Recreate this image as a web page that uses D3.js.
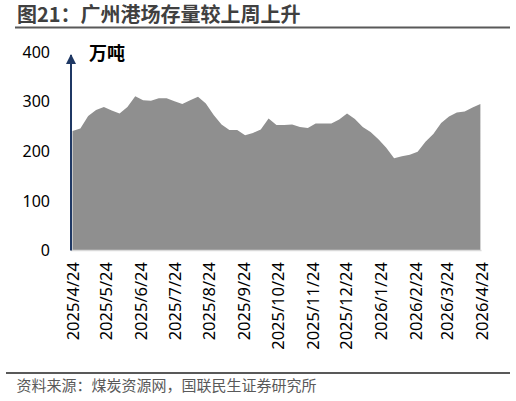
<!DOCTYPE html>
<html><head><meta charset="utf-8">
<script src="https://cdn.jsdelivr.net/npm/d3@7"></script>
<style>html,body{margin:0;padding:0;background:#fff;}svg{display:block;}</style>
</head><body>
<svg id="chart" width="516" height="401"></svg>
<script>
const title = "图21：广州港场存量较上周上升";
const unitLabel = "万吨";
const sourceText = "资料来源：煤炭资源网，国联民生证券研究所";
const startDate = "2025-04-24";
const stockValues = [241,246,271,283,289,282,276,289,311,303,302,307,307,301,295,303,310,296,273,254,243,243,232,237,244,266,253,253,254,249,247,256,256,256,264,276,265,249,239,224,207,186,190,193,199,219,235,257,270,278,280,288,295];
const xTickLabels = ["2025/4/24","2025/5/24","2025/6/24","2025/7/24","2025/8/24","2025/9/24","2025/10/24","2025/11/24","2025/12/24","2026/1/24","2026/2/24","2026/3/24","2026/4/24"];
const yTicks = [0,100,200,300,400];

const parse = d3.timeParse("%Y-%m-%d");
const parseLbl = d3.timeParse("%Y/%m/%d");
const t0 = parse(startDate);
const data = stockValues.map((v,i)=>({date: d3.timeDay.offset(t0, 7*i), value: v}));
const tickDates = xTickLabels.map(s=>parseLbl(s));

const svg = d3.select("#chart");
const x = d3.scaleTime().domain([tickDates[0], tickDates[tickDates.length-1]]).range([72.5, 481.5]);
const y = d3.scaleLinear().domain([0,400]).range([250.5, 52]);

// title
svg.append("text").attr("x",17).attr("y",22).text(title)
  .attr("font-family","'Noto Sans CJK SC', sans-serif").attr("font-weight","bold")
  .attr("font-size",20).attr("fill","#404040");
svg.append("line").attr("x1",15).attr("x2",510).attr("y1",27.5).attr("y2",27.5)
  .attr("stroke","#595959").attr("stroke-width",2);

// area
const area = d3.area().x(d=>x(d.date)).y0(y(0)).y1(d=>y(d.value));
svg.append("path").datum(data).attr("d",area).attr("fill","#8f8f8f");

// x axis line
svg.append("line").attr("x1",71).attr("x2",481.5).attr("y1",y(0)).attr("y2",y(0))
  .attr("stroke","#d9d9d9").attr("stroke-width",1.5);

// y axis (labels only)
const yAxis = d3.axisLeft(y).tickValues(yTicks).tickSize(0).tickPadding(0);
const gy = svg.append("g").attr("transform","translate(50,0)").call(yAxis);
gy.select(".domain").remove();
gy.selectAll("text").attr("font-family","'Noto Sans', sans-serif").attr("font-size",16).attr("fill","#000");

// y axis line with arrow
svg.append("defs").append("marker").attr("id","arr").attr("viewBox","0 0 10 10")
  .attr("refX",9).attr("refY",5).attr("markerWidth",5.5).attr("markerHeight",5).attr("orient","auto")
  .attr("markerUnits","strokeWidth")
  .append("path").attr("d","M0,0 L10,5 L0,10 Z").attr("fill","#1f3864");
svg.append("line").attr("x1",71).attr("x2",71).attr("y1",y(0)).attr("y2",55)
  .attr("stroke","#1f3864").attr("stroke-width",2).attr("marker-end","url(#arr)");

svg.append("text").attr("x",89).attr("y",59.5).text(unitLabel)
  .attr("font-family","'Noto Sans CJK SC', sans-serif").attr("font-weight","bold")
  .attr("font-size",18).attr("fill","#000");

// x axis labels
const xAxis = d3.axisBottom(x).tickValues(tickDates).tickSize(0).tickPadding(0)
  .tickFormat((d,i)=>xTickLabels[i]);
const gx = svg.append("g").attr("transform","translate(0,262)").call(xAxis);
gx.select(".domain").remove();
gx.selectAll("text")
  .attr("transform","rotate(-90)").attr("text-anchor","end")
  .attr("x",0).attr("y",0).attr("dy","0.35em")
  .attr("font-family","'Noto Sans', sans-serif").attr("font-size",16.5).attr("fill","#000");

// source
svg.append("line").attr("x1",6).attr("x2",510).attr("y1",373).attr("y2",373)
  .attr("stroke","#595959").attr("stroke-width",2);
svg.append("text").attr("x",16.5).attr("y",391).text(sourceText)
  .attr("font-family","'Noto Sans CJK SC', sans-serif")
  .attr("font-size",15).attr("fill","#595959");
</script>
</body></html>
